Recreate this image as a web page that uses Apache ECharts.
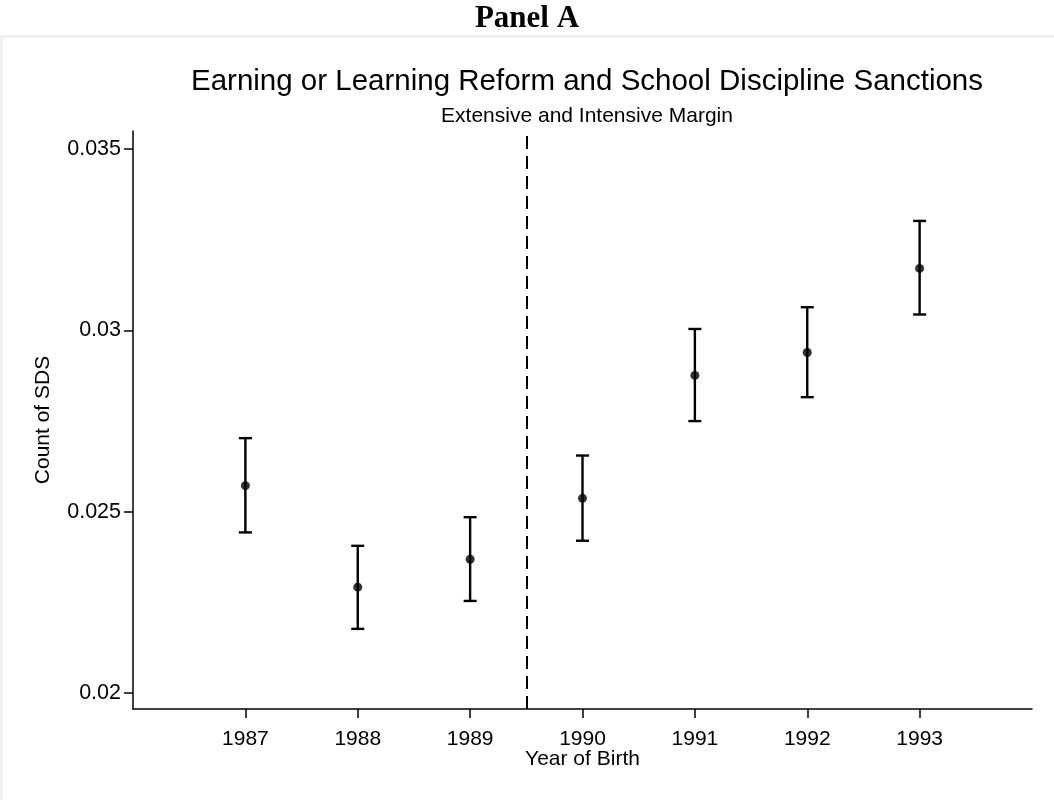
<!DOCTYPE html>
<html>
<head>
<meta charset="utf-8">
<title>Earning or Learning Reform and School Discipline Sanctions</title>
<script src="https://cdn.jsdelivr.net/npm/echarts@6/dist/echarts.min.js"></script>
<style>
  html, body { margin: 0; padding: 0; background: #ffffff; }
  #chart { width: 1054px; height: 800px; }
</style>
</head>
<body>
<div id="chart"></div>
<script>
// Birth cohorts and estimated counts of school discipline sanctions (with 95% CI)
const years = [1987, 1988, 1989, 1990, 1991, 1992, 1993];
const estimates = [0.02572, 0.02292, 0.02369, 0.02537, 0.02876, 0.02939, 0.03171];
const lowerCI = [0.02443, 0.02177, 0.02254, 0.02420, 0.02750, 0.02816, 0.03044];
const upperCI = [0.02703, 0.02406, 0.02485, 0.02655, 0.03004, 0.03064, 0.03302];
const yTicks = [0.02, 0.025, 0.03, 0.035];
const reformCutoff = 1989.5;

const pointData = years.map((y, i) => [y, estimates[i]]);
const ciData = years.map((y, i) => [y, lowerCI[i], upperCI[i]]);

const chart = echarts.init(document.getElementById('chart'), null, { renderer: 'canvas' });

const sans = 'Liberation Sans, Arial, Helvetica, sans-serif';

chart.setOption({
  backgroundColor: '#ffffff',
  animation: false,
  graphic: [
    {
      type: 'rect',
      silent: true,
      shape: { x: 1.5, y: 36.5, width: 1100, height: 900 },
      style: { fill: 'none', stroke: '#e6ebf0', lineWidth: 2 }
    },
    {
      type: 'text',
      left: 'center',
      top: 3,
      style: {
        text: 'Panel A',
        font: 'bold 31px "Liberation Serif", "Times New Roman", serif',
        fill: '#000000'
      }
    }
  ],
  title: {
    text: 'Earning or Learning Reform and School Discipline Sanctions',
    subtext: 'Extensive and Intensive Margin',
    left: 582,
    textAlign: 'center',
    top: 62,
    itemGap: 9,
    textStyle: { fontFamily: sans, fontSize: 29.5, fontWeight: 'normal', color: '#000000' },
    subtextStyle: { fontFamily: sans, fontSize: 21, color: '#000000' }
  },
  grid: { left: 133, right: 22, top: 131, bottom: 91, containLabel: false },
  xAxis: {
    type: 'value',
    min: 1986,
    max: 1994,
    name: 'Year of Birth',
    nameLocation: 'middle',
    nameGap: 40,
    nameMoveOverlap: false,
    nameTextStyle: { fontFamily: sans, fontSize: 21, color: '#000000' },
    axisLine: { show: true, onZero: false, lineStyle: { color: '#000000', width: 1.5 } },
    axisTick: { show: true, length: 9, customValues: years, lineStyle: { color: '#000000', width: 1.5 } },
    axisLabel: {
      customValues: years,
      fontFamily: sans, fontSize: 21, color: '#000000', margin: 20,
      formatter: v => String(v)
    },
    splitLine: { show: false }
  },
  yAxis: {
    type: 'value',
    min: 0.01956,
    max: 0.0355,
    name: 'Count of SDS',
    nameLocation: 'middle',
    nameGap: 79,
    nameRotate: 90,
    nameTextStyle: { fontFamily: sans, fontSize: 21, color: '#000000' },
    axisLine: { show: true, onZero: false, lineStyle: { color: '#000000', width: 1.5 } },
    axisTick: { show: true, length: 9, customValues: yTicks, lineStyle: { color: '#000000', width: 1.5 } },
    axisLabel: {
      customValues: yTicks,
      fontFamily: sans, fontSize: 21.5, color: '#000000', margin: 12,
      formatter: v => String(Number(v.toFixed(4)))
    },
    splitLine: { show: false }
  },
  series: [
    {
      name: 'CI',
      type: 'custom',
      data: ciData,
      encode: { x: 0, y: [1, 2] },
      renderItem: function (params, api) {
        const x = api.value(0);
        const lo = api.coord([x, api.value(1)]);
        const hi = api.coord([x, api.value(2)]);
        const half = 6.5;
        const style = { stroke: '#000000', lineWidth: 2.4, fill: 'none' };
        return {
          type: 'group',
          children: [
            { type: 'line', shape: { x1: lo[0], y1: lo[1], x2: hi[0], y2: hi[1] }, style: style },
            { type: 'line', shape: { x1: lo[0] - half, y1: lo[1], x2: lo[0] + half, y2: lo[1] }, style: style },
            { type: 'line', shape: { x1: hi[0] - half, y1: hi[1], x2: hi[0] + half, y2: hi[1] }, style: style }
          ]
        };
      },
      z: 2
    },
    {
      name: 'Estimate',
      type: 'scatter',
      data: pointData,
      symbol: 'circle',
      symbolSize: 9,
      itemStyle: { color: '#000000' },
      z: 3,
      markLine: {
        silent: true,
        symbol: ['none', 'none'],
        label: { show: false },
        lineStyle: { color: '#000000', type: [13, 7], width: 2 },
        data: [{ xAxis: reformCutoff }]
      }
    }
  ]
});
</script>
</body>
</html>
